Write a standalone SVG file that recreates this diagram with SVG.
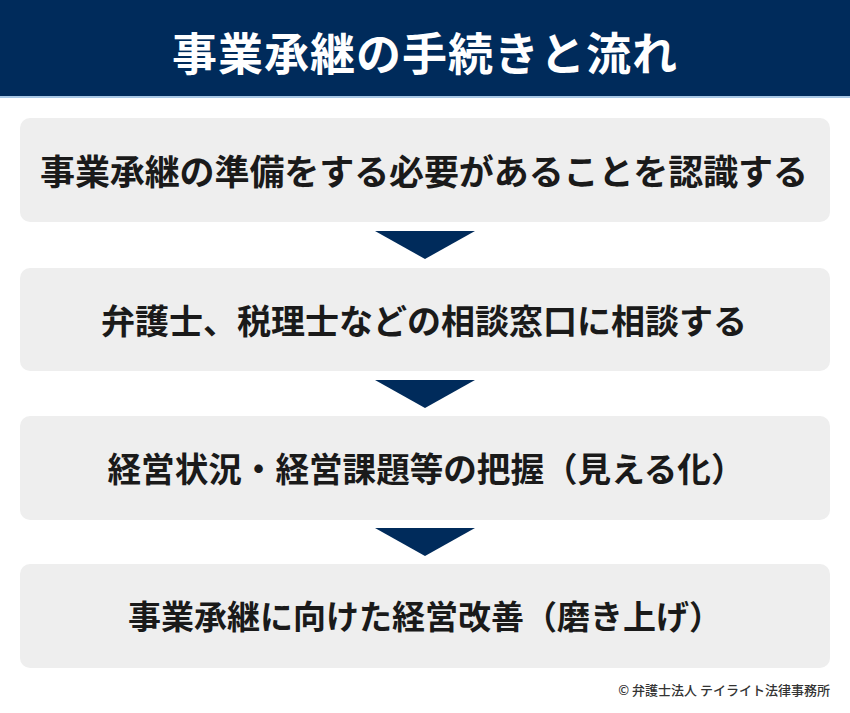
<svg xmlns="http://www.w3.org/2000/svg" width="850" height="713" viewBox="0 0 850 713">
<style>
.box{fill:#eeeeee}
.t{font-family:"Noto Sans CJK JP","Noto Sans CJK SC",sans-serif;font-weight:bold;font-size:34px;fill:#1a1a1a;text-anchor:middle;dominant-baseline:central}
.arr{fill:#002b5b}
</style>
<rect x="0" y="0" width="850" height="713" fill="#ffffff"/>
<g id="header">
<rect x="0" y="0" width="850" height="97" fill="#002b5b"/>
<rect x="0" y="96" width="850" height="2" fill="#a9c8e6"/>
<text x="425" y="51" font-family="Noto Sans CJK JP,sans-serif" font-weight="bold" font-size="45" fill="#ffffff" text-anchor="middle" dominant-baseline="central" letter-spacing="1">事業承継の手続きと流れ</text>
</g>
<g id="step1">
<rect class="box" x="20" y="118" width="810" height="104" rx="10"/>
<text class="t" x="424" y="169" style="font-size:35px" textLength="768" lengthAdjust="spacing">事業承継の準備をする必要があることを認識する</text>
</g>
<g id="step2">
<rect class="box" x="20" y="268" width="810" height="103" rx="10"/>
<text class="t" x="424" y="319">弁護士、税理士などの相談窓口に相談する</text>
</g>
<g id="step3">
<rect class="box" x="20" y="416" width="810" height="104" rx="10"/>
<text class="t" x="426" y="467" style="font-size:33.6px">経営状況・経営課題等の把握（見える化）</text>
</g>
<g id="step4">
<rect class="box" x="20" y="564" width="810" height="104" rx="10"/>
<text class="t" x="425" y="615" style="font-size:33px">事業承継に向けた経営改善（磨き上げ）</text>
</g>
<g id="connectors">
<polygon class="arr" points="375,231 475,231 425,259"/>
<polygon class="arr" points="375,380 475,380 425,408"/>
<polygon class="arr" points="375,528 475,528 425,556"/>
</g>
<text x="830" y="689" font-family="Noto Sans CJK JP,sans-serif" font-weight="500" font-size="13" fill="#333333" text-anchor="end" dominant-baseline="central">© 弁護士法人 テイライト法律事務所</text>
</svg>
